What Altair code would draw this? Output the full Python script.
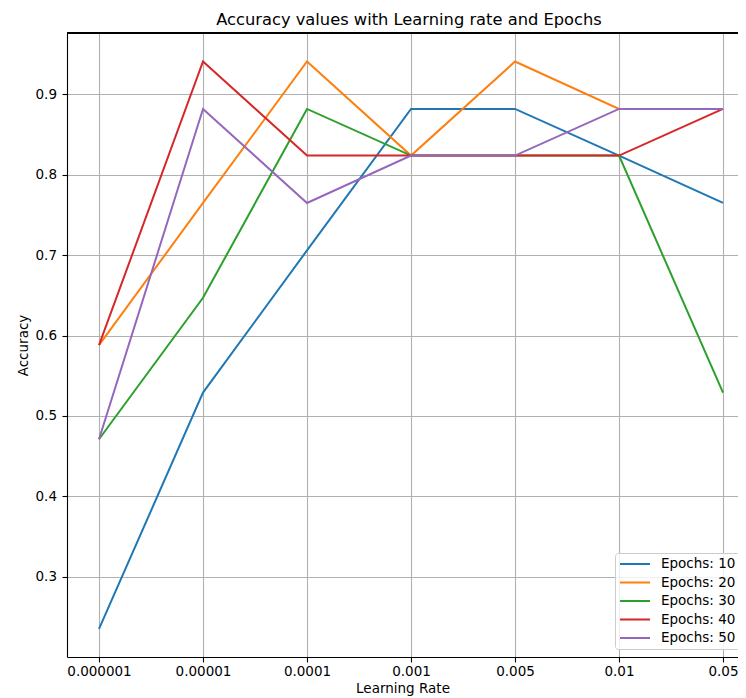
import altair as alt
import pandas as pd

learning_rates = ["0.000001", "0.00001", "0.0001", "0.001", "0.005", "0.01", "0.05"]
series_names = ["Epochs: 10", "Epochs: 20", "Epochs: 30", "Epochs: 40", "Epochs: 50"]
acc_10 = [0.235, 0.529, 0.706, 0.882, 0.882, 0.824, 0.765]
acc_20 = [0.588, 0.765, 0.941, 0.824, 0.941, 0.882, 0.882]
acc_30 = [0.471, 0.647, 0.882, 0.824, 0.824, 0.824, 0.529]
acc_40 = [0.588, 0.941, 0.824, 0.824, 0.824, 0.824, 0.882]
acc_50 = [0.471, 0.882, 0.765, 0.824, 0.824, 0.882, 0.882]
colors = ["#1f77b4", "#ff7f0e", "#2ca02c", "#d62728", "#9467bd"]
y_ticks = [0.3, 0.4, 0.5, 0.6, 0.7, 0.8, 0.9]

all_series = [acc_10, acc_20, acc_30, acc_40, acc_50]
rows = []
for name, vals in zip(series_names, all_series):
    for i, (lr, v) in enumerate(zip(learning_rates, vals)):
        rows.append({"idx": i, "lr": lr, "accuracy": v, "series": name})
df = pd.DataFrame(rows)

W, H = 671, 624
FONT = "DejaVu Sans"
label_expr = "[" + ",".join("'" + s + "'" for s in learning_rates) + "][datum.value]"

lines = alt.Chart(df).mark_line(strokeWidth=2).encode(
    x=alt.X(
        "idx:Q",
        scale=alt.Scale(domain=[-0.3077, 6.144], nice=False, zero=False),
        axis=alt.Axis(
            values=list(range(len(learning_rates))),
            labelExpr=label_expr,
            title="Learning Rate",
            titleY=35,
            titleBaseline="alphabetic",
        ),
    ),
    y=alt.Y(
        "accuracy:Q",
        scale=alt.Scale(domain=[0.2, 0.9765], nice=False, zero=False),
        axis=alt.Axis(
            values=y_ticks,
            format=".1f",
            title="Accuracy",
            titleX=-37,
            titleY=H / 2,
            titleAngle=270,
            titleBaseline="bottom",
        ),
    ),
    color=alt.Color(
        "series:N",
        scale=alt.Scale(domain=series_names, range=colors),
        title=None,
        legend=alt.Legend(
            orient="none",
            legendX=548,
            legendY=520,
            symbolType="stroke",
            symbolSize=900,
            symbolStrokeWidth=2,
            clipHeight=14,
            labelFontSize=13.5,
            labelFont=FONT,
            labelColor="black",
            labelOffset=10,
            padding=4,
            rowPadding=4.5,
            strokeColor="#cccccc",
            fillColor="rgba(255,255,255,0.8)",
            cornerRadius=3,
        ),
    ),
    detail="series:N",
)

top_frame = alt.Chart(df).mark_rule(color="black", strokeWidth=1).encode(
    x=alt.value(0), x2=alt.value(W), y=alt.value(0)
)

chart = (
    alt.layer(lines, top_frame)
    .properties(
        width=W,
        height=H,
        autosize=alt.AutoSizeParams(type="none"),
        padding={"left": 59, "top": 25, "right": 0, "bottom": 39},
        title=alt.TitleParams(
            text="Accuracy values with Learning rate and Epochs",
            font=FONT,
            fontSize=16.3,
            fontWeight="normal",
            color="black",
            anchor="middle",
            offset=4,
            dx=6.5,
        ),
    )
    .configure_view(stroke=None)
    .configure_axis(
        labelFont=FONT,
        labelFontSize=13.5,
        labelColor="black",
        titleFont=FONT,
        titleFontSize=13.5,
        titleFontWeight="normal",
        titleColor="black",
        domainColor="black",
        domainWidth=1.1,
        tickColor="black",
        tickWidth=1.1,
        tickSize=5,
        gridColor="#b0b0b0",
        gridWidth=1.1,
        grid=True,
    )
    .configure_axisX(labelPadding=2)
    .configure_axisY(labelPadding=5.5)
)

chart.save("out.html", embed_options={"renderer": "svg", "actions": False})
